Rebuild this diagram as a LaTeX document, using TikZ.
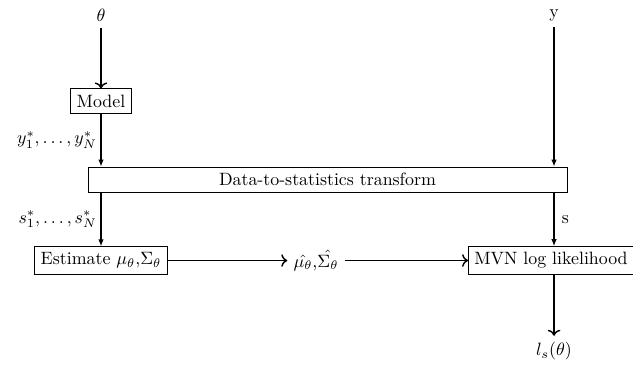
\documentclass[tikz,border=0pt]{standalone}
\usetikzlibrary{arrows.meta}
\begin{document}
\begin{tikzpicture}[x=0.56pt, y=-0.56pt,
  box/.style={draw, thin, inner sep=3.3pt},
  flow/.style={thick, ->},
  feed/.style={thick, -{Latex[length=4pt,width=3.2pt]}},
  lbl/.style={inner sep=2pt}]
\useasboundingbox (0,0) rectangle (633,367);

% nodes
\node (theta) at (101,15) {$\theta$};
\node[box] (model) at (101,101) {Model};
\node[box, minimum width=268.2pt, minimum height=14pt] (d2s) at (327.5,179.5) {Data-to-statistics transform};
\node (y) at (554,15) {y};
\node[box] (est) at (101,260.5) {Estimate $\mu_\theta$,$\Sigma_\theta$};
\node (muhat) at (316,260.5) {$\hat{\mu_\theta}$,$\hat{\Sigma_\theta}$};
\node[box] (mvn) at (551,260.5) {MVN log likelihood};
\node (ls) at (554,351) {$l_s(\theta)$};

% connectors
\draw[flow] (theta) -- (model);
\draw[feed] (model) -- node[lbl, left] {$y_1^*,\ldots,y_N^*$} (model |- d2s.north);
\draw[feed] (y) -- (y |- d2s.north);
\draw[feed] (d2s.south -| est) -- node[lbl, left] {$s_1^*,\ldots,s_N^*$} (est);
\draw[feed] (d2s.south -| y) -- node[lbl, right, xshift=2pt] {s} (mvn.north -| y);
\draw[flow] (est) -- (muhat);
\draw[flow] (muhat) -- (mvn);
\draw[flow] (mvn.south -| y) -- (ls);
\end{tikzpicture}
\end{document}
